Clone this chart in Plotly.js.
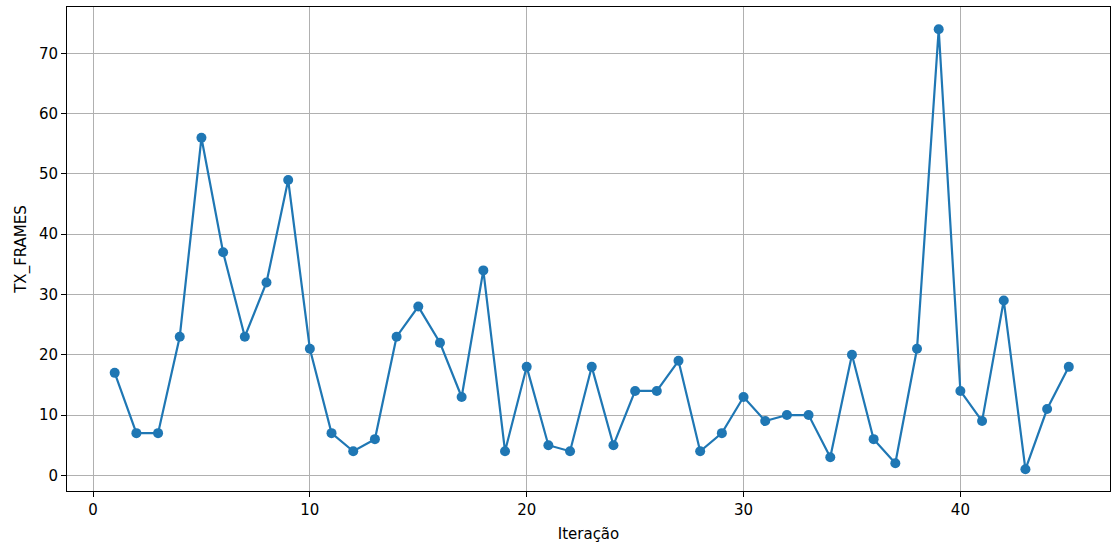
<!DOCTYPE html>
<html><head><meta charset="utf-8">
<script src="https://cdn.plot.ly/plotly-3.0.1.min.js"></script>
<style>html,body{margin:0;padding:0;background:#fff}#chart{width:1111px;height:545px}</style>
</head><body><div id="chart"></div>
<script>
const iterations = [1,2,3,4,5,6,7,8,9,10,11,12,13,14,15,16,17,18,19,20,21,22,23,24,25,26,27,28,29,30,31,32,33,34,35,36,37,38,39,40,41,42,43,44,45];
const txFrames = [17,7,7,23,56,37,23,32,49,21,7,4,6,23,28,22,13,34,4,18,5,4,18,5,14,14,19,4,7,13,9,10,10,3,20,6,2,21,74,14,9,29,1,11,18];
const xTicks = [0,10,20,30,40];
const yTicks = [0,10,20,30,40,50,60,70];
const font = {family:'DejaVu Sans, sans-serif', size:15, color:'#000'};
Plotly.newPlot('chart', [{
  x: iterations, y: txFrames, type:'scatter', mode:'lines+markers',
  line:{color:'#1f77b4', width:2.2}, marker:{color:'#1f77b4', size:10}
}], {
  width:1111, height:545,
  margin:{l:67, r:1, t:7, b:54},
  paper_bgcolor:'#fff', plot_bgcolor:'#fff',
  font: font, showlegend:false,
  xaxis:{range:[-1.2,46.9], tickvals:xTicks, ticks:'outside', ticklen:5, tickcolor:'#000',
    showgrid:true, gridcolor:'#b0b0b0', gridwidth:1, zeroline:false,
    showline:true, linecolor:'#000', linewidth:1, mirror:true,
    title:{text:'Iteração', font:font, standoff:10}},
  yaxis:{range:[-2.6,77.7], tickvals:yTicks, ticks:'outside', ticklen:5, tickcolor:'#000',
    showgrid:true, gridcolor:'#b0b0b0', gridwidth:1, zeroline:false,
    showline:true, linecolor:'#000', linewidth:1, mirror:true,
    title:{text:'TX_FRAMES', font:font, standoff:8}}
}, {displayModeBar:false, staticPlot:true});
</script></body></html>
